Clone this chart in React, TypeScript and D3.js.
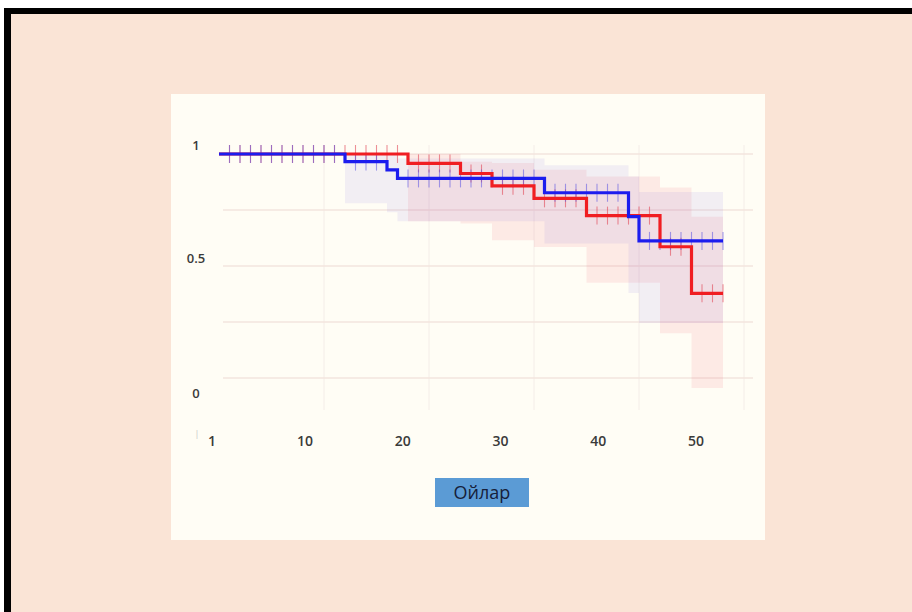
import React from "react";
import * as d3 from "d3";

// ---- data ----
const blueTimes = [0, 12, 16, 17, 31, 39, 40];
const blueSurv = [1, 0.966, 0.929, 0.891, 0.827, 0.72, 0.612];
const blueLower = [1, 0.78, 0.74, 0.7, 0.6, 0.38, 0.245];
const blueUpper = [1, 1, 1, 0.98, 0.95, 0.9, 0.83];
const blueCensor = [1, 2, 3, 4, 5, 6, 7, 8, 9, 10, 11, 13, 14, 15, 18, 19, 20, 21, 22, 23, 24, 25, 26, 27, 28, 29, 30, 32, 33, 34, 35, 36, 37, 38, 41, 42, 43, 44, 45, 46, 47, 48];

const redTimes = [0, 18, 23, 26, 30, 35, 42, 45];
const redSurv = [1, 0.958, 0.913, 0.858, 0.802, 0.725, 0.586, 0.378];
const redLower = [1, 0.7, 0.69, 0.615, 0.585, 0.425, 0.2, -0.045];
const redUpper = [1, 1, 0.965, 0.96, 0.93, 0.9, 0.85, 0.72];
const redCensor = [1, 2, 3, 4, 5, 6, 7, 8, 9, 10, 11, 12, 13, 14, 15, 16, 17, 19, 20, 21, 22, 24, 25, 27, 28, 29, 31, 32, 33, 34, 36, 37, 38, 39, 40, 41, 43, 44, 46, 47, 48];

const endTime = 48;
const xGridValues = [10, 20, 30, 40, 50];
const yGridValues = [0, 0.25, 0.5, 0.75, 1];
const xTickLabels = [1, 10, 20, 30, 40, 50];
const yTickLabels = [0, 0.5, 1];
const xTitle = "Ойлар";

type Pt = { t: number; v: number; lo: number; hi: number };

function buildSeries(times: number[], surv: number[], lo: number[], hi: number[]): Pt[] {
  const pts = times.map((t, i) => ({ t, v: surv[i], lo: lo[i], hi: hi[i] }));
  const last = pts[pts.length - 1];
  pts.push({ t: endTime, v: last.v, lo: last.lo, hi: last.hi });
  return pts;
}

function valueAt(pts: Pt[], t: number): number {
  let v = pts[0].v;
  for (const p of pts) if (p.t <= t) v = p.v;
  return v;
}

export default function App() {
  const W = 912;
  const H = 612;
  const x = d3.scaleLinear().domain([0, 50]).range([219, 744]);
  const y = d3.scaleLinear().domain([0, 1]).range([378, 154]);
  // label placement scales (labels are offset from the grid in the original)
  const xLab = d3.scaleLinear().domain([10, 50]).range([305, 696]);
  const yLab = d3.scaleLinear().domain([0, 0.5, 1]).range([393, 258, 145]);

  const blue = buildSeries(blueTimes, blueSurv, blueLower, blueUpper);
  const red = buildSeries(redTimes, redSurv, redLower, redUpper);

  const line = d3
    .line<Pt>()
    .x((d) => x(d.t))
    .y((d) => y(d.v))
    .curve(d3.curveStepAfter);
  const area = d3
    .area<Pt>()
    .x((d) => x(d.t))
    .y0((d) => y(d.lo))
    .y1((d) => y(d.hi))
    .curve(d3.curveStepAfter);

  const blueColor = "rgb(28,28,238)";
  const redColor = "rgb(240,30,34)";
  const font = "'Open Sans', 'Liberation Sans', sans-serif";

  return (
    <svg
      width={W}
      height={H}
      style={{ position: "absolute", left: 0, top: 0, display: "block" }}
    >
      <rect x={0} y={0} width={W} height={H} fill="#ffffff" />
      <rect x={4} y={8} width={W - 4} height={H - 8} fill="#000000" />
      <rect x={11} y={14} width={W - 11} height={H - 14} fill="rgb(250,228,214)" />
      {/* inner panel */}
      <rect x={171} y={94} width={594} height={446} fill="rgb(255,253,245)" />

      {/* gridlines */}
      {xGridValues.map((g) => (
        <line
          key={"vx" + g}
          x1={x(g)}
          x2={x(g)}
          y1={y(1.04)}
          y2={y(-0.143)}
          stroke="rgb(244,237,232)"
          strokeWidth={1}
        />
      ))}
      {yGridValues.map((g) => (
        <line
          key={"hy" + g}
          x1={223}
          x2={753}
          y1={y(g)}
          y2={y(g)}
          stroke="rgb(243,228,222)"
          strokeWidth={1.3}
        />
      ))}

      {/* confidence bands */}
      <path d={area(red) || ""} fill="rgba(240,110,125,0.13)" />
      <path d={area(blue) || ""} fill="rgba(125,110,225,0.1)" />

      {/* censor ticks */}
      {redCensor.map((t) => (
        <line
          key={"rc" + t}
          x1={x(t)}
          x2={x(t)}
          y1={y(valueAt(red, t)) - 9}
          y2={y(valueAt(red, t)) + 9}
          stroke="rgba(225,70,85,0.6)"
          strokeWidth={1.1}
        />
      ))}
      {blueCensor.map((t) => (
        <line
          key={"bc" + t}
          x1={x(t)}
          x2={x(t)}
          y1={y(valueAt(blue, t)) - 9}
          y2={y(valueAt(blue, t)) + 9}
          stroke="rgba(90,80,225,0.55)"
          strokeWidth={1.1}
        />
      ))}

      {/* survival curves */}
      <path d={line(red) || ""} fill="none" stroke={redColor} strokeWidth={3.2} />
      <path d={line(blue) || ""} fill="none" stroke={blueColor} strokeWidth={3.2} />

      {/* y labels */}
      {yTickLabels.map((v) => (
        <text
          key={"yl" + v}
          x={196}
          y={yLab(v)}
          textAnchor="middle"
          dominantBaseline="central"
          fontFamily={font}
          fontSize={13}
          fontWeight={600}
          fill="#3a3a3a"
        >
          {String(v)}
        </text>
      ))}
      {/* x labels */}
      {xTickLabels.map((v) => (
        <text
          key={"xl" + v}
          x={v === 1 ? 212 : xLab(v)}
          y={440}
          textAnchor="middle"
          dominantBaseline="central"
          fontFamily={font}
          fontSize={14}
          fontWeight={600}
          fill="#3a3a3a"
        >
          {String(v)}
        </text>
      ))}
      <text
        x={197}
        y={433}
        textAnchor="middle"
        dominantBaseline="central"
        fontFamily={font}
        fontSize={9}
        fill="#c8c8c8"
      >
        |
      </text>

      {/* axis title */}
      <rect x={435} y={478} width={94} height={29} fill="rgb(91,155,213)" />
      <text
        x={482}
        y={499}
        textAnchor="middle"
        fontFamily={font}
        fontSize={18}
        fontWeight={500}
        fill="rgb(22,32,58)"
      >
        {xTitle}
      </text>
    </svg>
  );
}
